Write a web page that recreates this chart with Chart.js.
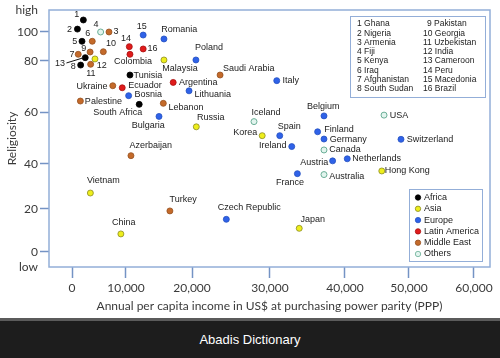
<!DOCTYPE html>
<html>
<head>
<meta charset="utf-8">
<script src="https://cdn.jsdelivr.net/npm/chart.js@4.4.1/dist/chart.umd.min.js"></script>
<style>
body{margin:0;background:#fff;width:500px;height:358px;overflow:hidden}
#wrap{position:relative;width:500px;height:318px}
#foot{height:37px;border-top:3px solid #5b5b5b;background:#1d1d1d;color:#fff;font:13px "Liberation Sans",Arial,sans-serif;text-align:center;line-height:37px}
</style>
</head>
<body>
<div id="wrap"><canvas id="c"></canvas></div>
<div id="foot">Abadis Dictionary</div>
<script>
// data
const countries = ['Ghana','Nigeria','Armenia','Fiji','Kenya','Iraq','Afghanistan','South Sudan','Pakistan','Georgia',
  'Uzbekistan','India','Cameroon','Peru','Macedonia','Brazil','Colombia','Romania','Malaysia','Poland',
  'Tunisia','Ukraine','Ecuador','Bosnia','Argentina','Lithuania','Palestine','South Africa','Lebanon','Bulgaria',
  'Russia','Azerbaijan','Saudi Arabia','Italy','Iceland','Korea','Spain','Ireland','Belgium','Finland',
  'Germany','Canada','Austria','Netherlands','France','Australia','USA','Switzerland','Hong Kong','Vietnam',
  'Turkey','Czech Republic','China','Japan'];
const income = [2100,1000,6850,5300,1850,3750,1150,1600,3350,5800,
  3450,4250,2450,10500,12600,12600,10600,15750,15750,20500,
  10600,7550,9300,10400,17150,19550,1550,12000,15650,15000,
  20550,10750,23600,30900,27950,29000,31300,32900,37200,36350,
  37200,37200,38350,40350,33650,37200,46100,48750,45750,3400,
  16650,24400,9050,33900];
const religiosity = [108.3,102,100,100,93.6,93.6,84.6,78.4,86.2,86.4,
  78.7,81.4,82.3,89.9,97.9,88.3,84.6,95.2,80.7,80.7,
  74.5,70.3,69.5,66.4,71.6,68.3,64.3,63,63.4,58.3,
  54.3,43.2,74.5,72.3,56.3,50.9,50.9,46.7,58.5,52.4,
  49.6,45.4,41.2,42,35.7,35.3,58.8,49.5,36.9,27.1,
  19.1,15.2,8.4,11];
const region = ['Africa','Africa','Middle East','Others','Africa','Middle East','Middle East','Africa','Middle East','Middle East',
  'Middle East','Asia','Africa','Latin America','Europe','Latin America','Latin America','Europe','Asia','Europe',
  'Africa','Middle East','Latin America','Europe','Latin America','Europe','Middle East','Africa','Middle East','Europe',
  'Asia','Middle East','Middle East','Europe','Others','Asia','Europe','Europe','Europe','Europe',
  'Europe','Others','Europe','Europe','Europe','Others','Others','Europe','Asia','Asia',
  'Middle East','Europe','Asia','Asia'];
const regions = ['Africa','Asia','Europe','Latin America','Middle East','Others'];
const numbered = ['Ghana','Nigeria','Armenia','Fiji','Kenya','Iraq','Afghanistan','South Sudan',
  'Pakistan','Georgia','Uzbekistan','India','Cameroon','Peru','Macedonia','Brazil'];
const xTicks = [0,10000,20000,30000,40000,50000,60000];
const yTicks = [0,20,40,60,80,100];

// styles
const fills = {'Africa':'#000000','Asia':'#eeee1c','Europe':'#2f62e8','Latin America':'#e01b1b','Middle East':'#c46a2a','Others':'#e2f4ee'};
const edges = {'Africa':'#000000','Asia':'#8c8c22','Europe':'#2450c0','Latin America':'#a81010','Middle East':'#95501f','Others':'#6aae96'};
const frameColor = '#93aed8';
const tickColor = '#7493c4';

// label centre offsets from the dot, in px
const labelOffsets = {
  'Ghana':[-6.6,-5],'Nigeria':[-8,0],'Armenia':[7,0],'Fiji':[-4.7,-7],'Kenya':[-7.3,0.7],'Iraq':[-4.6,-7.3],
  'Afghanistan':[-6.3,0],'South Sudan':[-7.4,1.7],'Pakistan':[-6.3,-3.3],'Georgia':[7.7,-7.7],'Uzbekistan':[0.3,9.7],
  'India':[6.7,7],'Cameroon':[-25.3,6.3],'Peru':[-3.3,-7.7],'Macedonia':[-1.3,-8.3],'Brazil':[9.4,0],
  'Colombia':[3,7.4],'Romania':[15.3,-9],'Malaysia':[16,8.3],'Poland':[13,-12],'Tunisia':[18,0],
  'Ukraine':[-20.7,0.6],'Ecuador':[22.7,-2.7],'Bosnia':[19.6,-1],'Argentina':[25,0],'Lithuania':[23.7,3.7],
  'Palestine':[23,0],'South Africa':[-21.5,8.4],'Lebanon':[22.7,4.4],'Bulgaria':[-10.7,8.7],'Russia':[14.4,-9.2],
  'Azerbaijan':[19.7,-9.7],'Saudi Arabia':[28.7,-6.7],'Italy':[14,0],'Iceland':[12,-9],'Korea':[-17,-3],
  'Spain':[9.6,-9],'Ireland':[-19,-0.7],'Belgium':[-0.7,-9.3],'Finland':[21.3,-2.4],'Germany':[24.3,0.3],
  'Canada':[21,0],'Austria':[-18.4,1.7],'Netherlands':[29.4,0],'France':[-7.3,8.6],'Australia':[22.7,1.5],
  'USA':[15,0],'Switzerland':[29,0],'Hong Kong':[25.5,0],'Vietnam':[13,-12.3],'Turkey':[13.3,-11],
  'Czech Republic':[23,-12],'China':[3,-11.3],'Japan':[13.4,-9]
};
const leaders = ['Cameroon'];

// axis with unequal spacing between its ticks, as in the picture
class PiecewiseScale extends Chart.LinearScale {
  getPixelForValue(value) {
    const {values: v, fracs: f} = this.options.breaks;
    let i = 0;
    while (i < v.length - 2 && value > v[i + 1]) i++;
    return this.getPixelForDecimal(f[i] + (value - v[i]) / (v[i + 1] - v[i]) * (f[i + 1] - f[i]));
  }
  getValueForPixel(pixel) {
    const d = this.getDecimalForPixel(pixel);
    const {values: v, fracs: f} = this.options.breaks;
    let i = 0;
    while (i < f.length - 2 && d > f[i + 1]) i++;
    return v[i] + (d - f[i]) / (f[i + 1] - f[i]) * (v[i + 1] - v[i]);
  }
}
PiecewiseScale.id = 'piecewise';
PiecewiseScale.defaults = {};
Chart.register(PiecewiseScale);

const datasets = regions.map(r => {
  const idx = countries.map((c, i) => i).filter(i => region[i] === r);
  return {
    label: r,
    names: idx.map(i => countries[i]),
    data: idx.map(i => ({x: income[i], y: religiosity[i]})),
    backgroundColor: fills[r],
    borderColor: edges[r],
    borderWidth: r === 'Others' ? 1 : 0.8,
    pointRadius: 3,
    pointHoverRadius: 3
  };
});

const decor = {
  id: 'decor',
  afterDatasetsDraw(chart) {
    const {ctx, chartArea: a} = chart;
    ctx.save();
    ctx.font = '9px "Liberation Sans", Arial, sans-serif';
    ctx.fillStyle = '#222';
    ctx.textAlign = 'center';
    ctx.textBaseline = 'middle';
    chart.data.datasets.forEach((ds, di) => {
      chart.getDatasetMeta(di).data.forEach((pt, i) => {
        const name = ds.names[i];
        const n = numbered.indexOf(name);
        const text = n >= 0 ? String(n + 1) : name;
        const off = labelOffsets[name] || [0, -9];
        const x = pt.x + off[0], y = pt.y + off[1];
        ctx.fillText(text, x, y);
        if (leaders.includes(name)) {
          const w = ctx.measureText(text).width;
          ctx.strokeStyle = '#111';
          ctx.lineWidth = 1;
          ctx.beginPath();
          ctx.moveTo(x + w / 2 + 1.5, y - 1);
          ctx.lineTo(pt.x - 3, pt.y + 0.5);
          ctx.stroke();
        }
      });
    });

    // numbered legend
    ctx.fillStyle = '#fff';
    ctx.fillRect(350, 16, 135, 81);
    ctx.strokeStyle = frameColor;
    ctx.lineWidth = 1;
    ctx.strokeRect(350.5, 16.5, 135, 81);
    ctx.fillStyle = '#222';
    ctx.textAlign = 'left';
    ctx.font = '8.5px "Liberation Sans", Arial, sans-serif';
    numbered.forEach((name, i) => {
      const col = i < 8 ? 0 : 1;
      const row = i % 8;
      const x = col === 0 ? 357 : (i + 1 < 10 ? 427 : 423);
      ctx.fillText((i + 1) + ' ' + name, x, 24 + row * 9.25);
    });

    // region legend
    ctx.fillStyle = '#fff';
    ctx.fillRect(409, 189, 73, 72);
    ctx.strokeRect(409.5, 189.5, 73, 72);
    ctx.font = '9px "Liberation Sans", Arial, sans-serif';
    regions.forEach((r, i) => {
      const y = 197.5 + i * 11.3;
      ctx.beginPath();
      ctx.arc(418, y, 2.7, 0, Math.PI * 2);
      ctx.fillStyle = fills[r];
      ctx.fill();
      ctx.strokeStyle = edges[r];
      ctx.lineWidth = 0.8;
      ctx.stroke();
      ctx.fillStyle = '#222';
      ctx.fillText(r, 424, y);
    });

    // frame
    ctx.strokeStyle = frameColor;
    ctx.lineWidth = 1.5;
    ctx.strokeRect(a.left, a.top, a.right - a.left, a.bottom - a.top);
    ctx.restore();
  }
};

Chart.defaults.font.family = 'Lato';
Chart.defaults.color = '#3a3a3a';

new Chart(document.getElementById('c'), {
  type: 'scatter',
  data: {datasets},
  options: {
    responsive: true,
    maintainAspectRatio: false,
    animation: false,
    layout: {padding: {top: 10, right: 10, left: 0, bottom: 0}},
    plugins: {legend: {display: false}, tooltip: {enabled: false}},
    scales: {
      x: {
        type: 'piecewise',
        min: -4260, max: 62460,
        breaks: {values: [-4260, 0, 10000, 20000, 30000, 40000, 50000, 60000, 62460],
                 fracs: [0, 0.0522, 0.1746, 0.3243, 0.5011, 0.6712, 0.8163, 0.9637, 1]},
        afterBuildTicks: s => { s.ticks = xTicks.map(v => ({value: v})); },
        afterFit: s => { s.height = 51; },
        ticks: {autoSkip: false, maxRotation: 0, padding: 3, font: {size: 12},
                callback: v => v.toLocaleString('en-US')},
        grid: {drawOnChartArea: false, drawTicks: true, tickLength: 11, tickColor: tickColor, tickWidth: 1.5},
        border: {display: false},
        title: {display: true, text: 'Annual per capita income in US$ at purchasing power parity (PPP)',
                font: {size: 12}, padding: {top: 0, bottom: 5}}
      },
      y: {
        type: 'piecewise',
        min: -7, max: 115.2,
        breaks: {values: [-7, 0, 20, 40, 60, 80, 100, 115.2],
                 fracs: [0, 0.0584, 0.2257, 0.4008, 0.6031, 0.8016, 0.9144, 1]},
        afterBuildTicks: s => { s.ticks = [{value: -7}].concat(yTicks.map(v => ({value: v})), [{value: 115.2}]); },
        afterFit: s => { s.width = 49; },
        ticks: {autoSkip: false, padding: 2, font: {size: 12},
                callback: v => v < 0 ? 'low' : (v > 100 ? 'high' : v)},
        grid: {drawOnChartArea: false, drawTicks: true, tickLength: 9, tickWidth: 1.5,
               tickColor: c => (c.tick && (c.tick.value < 0 || c.tick.value > 100)) ? 'rgba(0,0,0,0)' : tickColor},
        border: {display: false},
        title: {display: true, text: 'Religiosity', font: {size: 12}, padding: {top: 5, bottom: 0}}
      }
    }
  },
  plugins: [decor]
});
</script>
</body>
</html>
